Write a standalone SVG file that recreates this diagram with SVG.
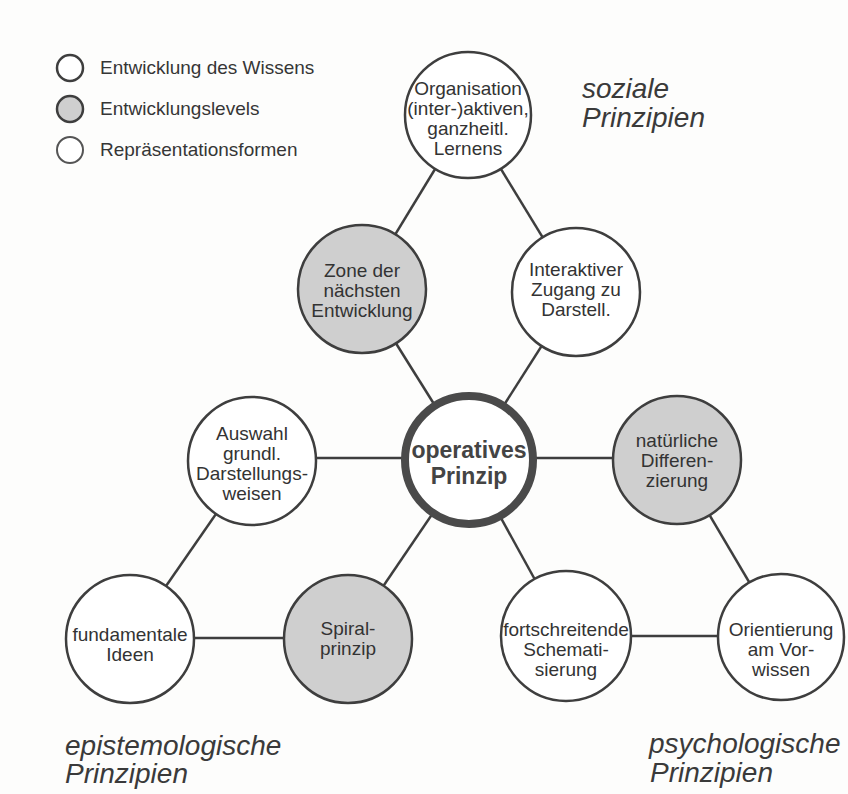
<svg xmlns="http://www.w3.org/2000/svg" width="848" height="794" viewBox="0 0 848 794">
<style>
.bg{fill:#fdfdfc}
.n{fill:#ffffff;stroke:#3e3e3e;stroke-width:2.5}
.g{fill:#cfcfcf;stroke:#3e3e3e;stroke-width:2.5}
.c{fill:#ffffff;stroke:#4a4a4a;stroke-width:8}
.e{stroke:#3e3e3e;stroke-width:2.5;fill:none}
.t{font-family:"Liberation Sans",Arial,sans-serif;font-size:19px;fill:#333333;text-anchor:middle}
.tb{font-family:"Liberation Sans",Arial,sans-serif;font-size:23px;font-weight:bold;fill:#444444;text-anchor:middle}
.lg{font-family:"Liberation Sans",Arial,sans-serif;font-size:19px;fill:#363636}
.it{font-family:"Liberation Sans",Arial,sans-serif;font-size:28px;font-style:italic;fill:#3a3a3a}
</style>
<rect class="bg" x="0" y="0" width="848" height="794"/>
<g id="legend">
<circle class="n" cx="70" cy="68" r="13"/>
<text class="lg" x="100" y="74">Entwicklung des Wissens</text>
<circle class="g" cx="70" cy="109" r="13"/>
<text class="lg" x="100" y="115">Entwicklungslevels</text>
<circle class="n" cx="70" cy="150" r="13" style="stroke:#555555;stroke-width:2"/>
<text class="lg" x="100" y="156">Repräsentationsformen</text>
</g>
<g id="connectors">
<line class="e" x1="468" y1="115" x2="362" y2="289"/>
<line class="e" x1="468" y1="115" x2="576" y2="292"/>
<line class="e" x1="362" y1="289" x2="469" y2="460"/>
<line class="e" x1="576" y1="292" x2="469" y2="460"/>
<line class="e" x1="252" y1="458" x2="677" y2="458"/>
<line class="e" x1="252" y1="462" x2="130" y2="638"/>
<line class="e" x1="130" y1="638" x2="348" y2="638"/>
<line class="e" x1="348" y1="638" x2="469" y2="460"/>
<line class="e" x1="469" y1="460" x2="566" y2="636"/>
<line class="e" x1="566" y1="636" x2="781" y2="636"/>
<line class="e" x1="677" y1="460" x2="781" y2="636"/>
</g>
<g id="n-organisation">
<circle class="n" cx="468" cy="115" r="63"/>
<text class="t" x="468" y="95">Organisation</text>
<text class="t" x="468" y="115">(inter-)aktiven,</text>
<text class="t" x="468" y="135">ganzheitl.</text>
<text class="t" x="468" y="155">Lernens</text>
</g>
<g id="n-zone">
<circle class="g" cx="362" cy="289" r="64"/>
<text class="t" x="362" y="277">Zone der</text>
<text class="t" x="362" y="297">nächsten</text>
<text class="t" x="362" y="317">Entwicklung</text>
</g>
<g id="n-interaktiv">
<circle class="n" cx="576" cy="292" r="64"/>
<text class="t" x="576" y="276">Interaktiver</text>
<text class="t" x="576" y="296">Zugang zu</text>
<text class="t" x="576" y="316">Darstell.</text>
</g>
<g id="n-operativ">
<circle class="c" cx="469" cy="460" r="64"/>
<text class="tb" x="469" y="458">operatives</text>
<text class="tb" x="469" y="484">Prinzip</text>
</g>
<g id="n-auswahl">
<circle class="n" cx="252" cy="461" r="64"/>
<text class="t" x="252" y="440">Auswahl</text>
<text class="t" x="252" y="460">grundl.</text>
<text class="t" x="252" y="480">Darstellungs-</text>
<text class="t" x="252" y="500">weisen</text>
</g>
<g id="n-natuerlich">
<circle class="g" cx="677" cy="460" r="64"/>
<text class="t" x="677" y="447">natürliche</text>
<text class="t" x="677" y="467">Differen-</text>
<text class="t" x="677" y="487">zierung</text>
</g>
<g id="n-fundamental">
<circle class="n" cx="130" cy="639" r="64"/>
<text class="t" x="130" y="641">fundamentale</text>
<text class="t" x="130" y="661">Ideen</text>
</g>
<g id="n-spiral">
<circle class="g" cx="348" cy="639" r="64"/>
<text class="t" x="348" y="635">Spiral-</text>
<text class="t" x="348" y="655">prinzip</text>
</g>
<g id="n-fortschreitend">
<circle class="n" cx="566" cy="636" r="65"/>
<text class="t" x="566" y="636">fortschreitende</text>
<text class="t" x="566" y="656">Schemati-</text>
<text class="t" x="566" y="676">sierung</text>
</g>
<g id="n-orientierung">
<circle class="n" cx="781" cy="637" r="63"/>
<text class="t" x="781" y="636">Orientierung</text>
<text class="t" x="781" y="656">am Vor-</text>
<text class="t" x="781" y="676">wissen</text>
</g>
<g id="labels">
<text class="it" x="582" y="98">soziale</text>
<text class="it" x="582" y="127">Prinzipien</text>
<text class="it" x="65" y="755">epistemologische</text>
<text class="it" x="65" y="783">Prinzipien</text>
<text class="it" x="649" y="753">psychologische</text>
<text class="it" x="650" y="782">Prinzipien</text>
</g>
</svg>
